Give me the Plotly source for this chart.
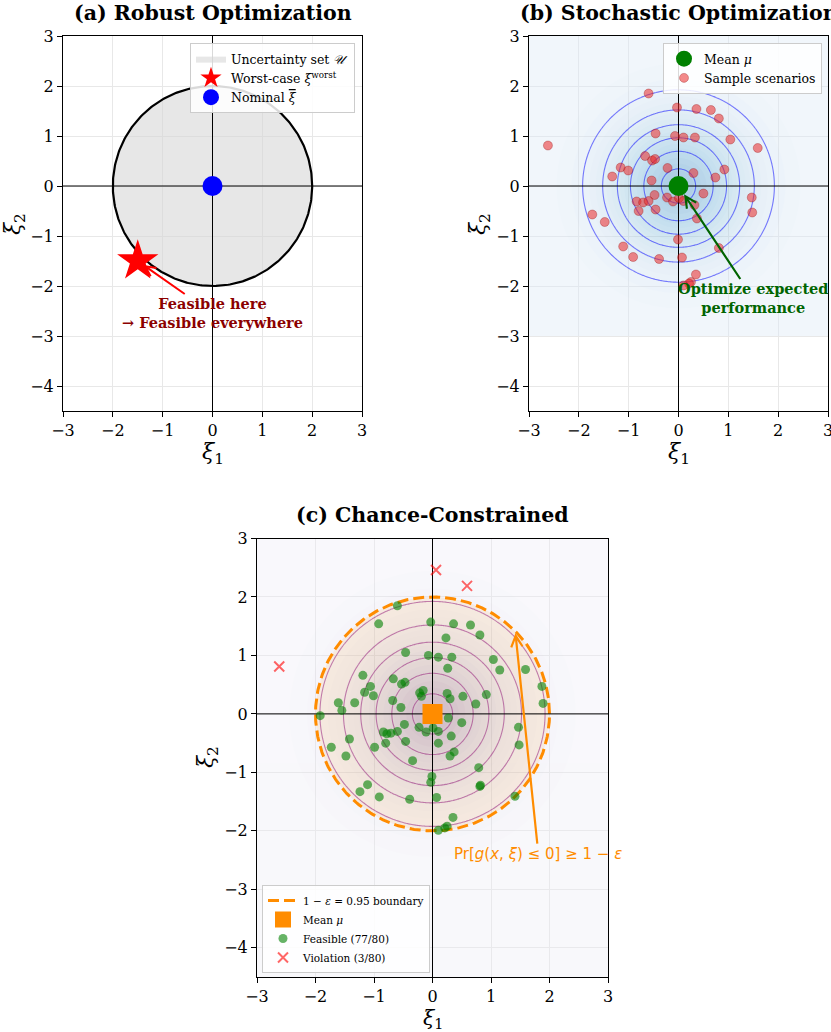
import numpy as np
import plotly.graph_objects as go

# ---------------- data ----------------
uncertainty_radius = 2.0
nominal_xi = [0.0]
nominal_eta = [0.0]
worst_xi = [-1.5]
worst_eta = [-1.5]
mean_xi = [0.0]
mean_eta = [0.0]

sample_x = [-0.60, -0.03, 0.36, 0.65, 0.81, -0.46, -0.07, 0.10, 0.33, 1.04,
            1.59, -2.62, -0.67, -0.53, -0.47, -1.16, -1.01, -1.33, -0.22, 0.30,
            0.92, 0.74, -0.54, 0.50, -0.48, -0.23, -0.11, 0.01, 0.10, -0.84,
            -0.71, -0.60, -0.80, -0.46, 0.32, 0.37, 1.47, 1.48, -1.73, -1.48,
            -0.01, 0.81, -1.11, -0.91, -0.39, 0.07, 0.35, 0.25, 0.21, 0.10,
            -0.92, 0.23, 0.26, 1.15, -1.19, -1.06, 1.87, 1.89, -0.16, -0.19,
            0.25, 0.52, -0.68, -1.61, -1.55, -1.92, 0.27, -0.78, 0.10, -1.42,
            0.30, -0.99, -0.34, 0.79, -0.03, -1.24, 1.41, 0.06, 0.59, 0.82]
sample_y = [1.85, 1.57, 1.54, 1.52, 1.35, 1.05, 1.00, 0.97, 0.97, 0.93,
            0.76, 0.81, 0.60, 0.51, 0.54, 0.37, 0.31, 0.19, 0.36, 0.26,
            0.33, 0.17, 0.11, -0.15, -0.18, -0.23, -0.31, -0.24, -0.30, -0.31,
            -0.33, -0.30, -0.50, -0.47, -0.38, -0.65, -0.23, -0.53, -0.57, -0.72,
            -1.07, -1.24, -1.21, -1.42, -1.46, -1.43, -1.77, -1.92, -1.95, -1.99,
            1.54, 1.30, 0.78, 0.75, 0.66, 0.47, 0.47, 0.18, 0.40, 0.30,
            0.35, 0.30, 0.23, 0.19, 0.06, -0.03, -0.07, -0.34, -0.50, -0.43,
            -0.72, -0.57, -0.80, -0.92, -1.17, -1.33, -1.41, 2.46, 2.19, -1.22]
n_stochastic = 50
epsilon = 0.05
boundary_radius = 2.0
contour_levels = [0.025, 0.15, 0.025]   # start, end, step of density contour lines

X_RANGE = [-3, 3]
Y_RANGE = [-4.5, 3]
X_TICKS = [-3, -2, -1, 0, 1, 2, 3]
Y_TICKS = [-4, -3, -2, -1, 0, 1, 2, 3]

# ---------------- helpers ----------------
W, H = 831, 1032
SERIF = "DejaVu Serif"
SANS = "DejaVu Sans"


def px(x):
    return x / W


def py(y):
    return 1 - y / H


def fmt(v):
    return ("\u2212" + str(abs(v))) if v < 0 else str(v)


def axis(domain, rng, ticks, anchor):
    return dict(domain=domain, range=rng, anchor=anchor,
                tickmode="array", tickvals=ticks, ticktext=[fmt(t) for t in ticks],
                showgrid=True, gridcolor="#e8e8e8", gridwidth=1, zeroline=False,
                showline=True, mirror=True, linecolor="black", linewidth=1,
                ticks="outside", ticklen=5, tickwidth=1, tickcolor="black",
                ticklabeloverflow="allow",
                tickfont=dict(family=SERIF, size=16, color="black"))


theta = np.linspace(0, 2 * np.pi, 361)
sx = np.array(sample_x)
sy = np.array(sample_y)


def gauss(xg, yg):
    XX, YY = np.meshgrid(xg, yg)
    return np.exp(-0.5 * (XX ** 2 + YY ** 2)) / (2 * np.pi)


fig = go.Figure()


def zero_lines(xa, ya):
    fig.add_trace(go.Scatter(x=X_RANGE, y=[0, 0], mode="lines", xaxis=xa, yaxis=ya,
                             line=dict(color="black", width=1), showlegend=False, hoverinfo="skip"))
    fig.add_trace(go.Scatter(x=[0, 0], y=Y_RANGE, mode="lines", xaxis=xa, yaxis=ya,
                             line=dict(color="black", width=1), showlegend=False, hoverinfo="skip"))


# ---------------- (a) Robust ----------------
fig.add_trace(go.Scatter(x=uncertainty_radius * np.cos(theta), y=uncertainty_radius * np.sin(theta),
                         fill="toself", fillcolor="rgba(211,211,211,0.55)", mode="lines",
                         line=dict(width=0, color="rgba(0,0,0,0)"),
                         name="Uncertainty set <i>\U0001D4B0</i>", legend="legend",
                         xaxis="x", yaxis="y", hoverinfo="skip"))
fig.add_trace(go.Scatter(x=uncertainty_radius * np.cos(theta), y=uncertainty_radius * np.sin(theta),
                         mode="lines", line=dict(color="black", width=2.2),
                         showlegend=False, xaxis="x", yaxis="y", hoverinfo="skip"))
zero_lines("x", "y")
fig.add_trace(go.Scatter(x=worst_xi, y=worst_eta, mode="markers",
                         marker=dict(symbol="star", size=31, color="red"),
                         name="Worst-case <i>ξ</i><sup>worst</sup>", legend="legend",
                         xaxis="x", yaxis="y"))
fig.add_trace(go.Scatter(x=nominal_xi, y=nominal_eta, mode="markers",
                         marker=dict(symbol="circle", size=20, color="blue"),
                         name='Nominal <span style="text-decoration:overline"><i>ξ</i></span>',
                         legend="legend", xaxis="x", yaxis="y"))

# ---------------- (b) Stochastic ----------------
gx = np.linspace(-3, 3, 241)
gy_b = np.linspace(-3, 3, 241)
Zb = gauss(gx, gy_b)
blues = [[0, "#e3eef9"], [0.25, "#c6dbef"], [0.5, "#9ecae1"], [0.75, "#6baed6"], [1, "#3182bd"]]
fig.add_trace(go.Contour(x=gx, y=gy_b, z=Zb, xaxis="x2", yaxis="y2",
                         colorscale=blues, showscale=False, opacity=0.4,
                         contours=dict(start=0, end=0.16, size=0.008, coloring="fill"),
                         line=dict(width=0), hoverinfo="skip", showlegend=False))
fig.add_trace(go.Contour(x=gx, y=gy_b, z=Zb, xaxis="x2", yaxis="y2",
                         colorscale=[[0, "blue"], [1, "blue"]], showscale=False, opacity=0.5,
                         contours=dict(start=contour_levels[0], end=contour_levels[1],
                                       size=contour_levels[2], coloring="lines"),
                         line=dict(width=1.1), hoverinfo="skip", showlegend=False))
zero_lines("x2", "y2")
fig.add_trace(go.Scatter(x=sx[:n_stochastic], y=sy[:n_stochastic], mode="markers",
                         marker=dict(size=9, color="rgba(235,40,40,0.55)",
                                     line=dict(color="rgba(139,0,0,0.5)", width=0.6)),
                         name="Sample scenarios", legend="legend2", legendrank=2,
                         xaxis="x2", yaxis="y2"))
fig.add_trace(go.Scatter(x=mean_xi, y=mean_eta, mode="markers",
                         marker=dict(size=20, color="green"),
                         name="Mean <i>μ</i>", legend="legend2", legendrank=1,
                         xaxis="x2", yaxis="y2"))

# ---------------- (c) Chance constrained ----------------
gy_c = np.linspace(-4.5, 3, 301)
Zc = gauss(gx, gy_c)
purples = [[0, "#f2f0f7"], [0.25, "#dadaeb"], [0.5, "#bcbddc"], [0.75, "#9e9ac8"], [1, "#6a51a3"]]
fig.add_trace(go.Contour(x=gx, y=gy_c, z=Zc, xaxis="x3", yaxis="y3",
                         colorscale=purples, showscale=False, opacity=0.35,
                         contours=dict(start=0, end=0.16, size=0.008, coloring="fill"),
                         line=dict(width=0), hoverinfo="skip", showlegend=False))
fig.add_trace(go.Scatter(x=boundary_radius * np.cos(theta), y=boundary_radius * np.sin(theta),
                         fill="toself", fillcolor="rgba(255,140,0,0.1)", mode="lines",
                         line=dict(width=0, color="rgba(0,0,0,0)"), showlegend=False,
                         xaxis="x3", yaxis="y3", hoverinfo="skip"))
fig.add_trace(go.Contour(x=gx, y=gy_c, z=Zc, xaxis="x3", yaxis="y3",
                         colorscale=[[0, "purple"], [1, "purple"]], showscale=False, opacity=0.5,
                         contours=dict(start=contour_levels[0], end=contour_levels[1],
                                       size=contour_levels[2], coloring="lines"),
                         line=dict(width=1.1), hoverinfo="skip", showlegend=False))
fig.add_trace(go.Scatter(x=boundary_radius * np.cos(theta), y=boundary_radius * np.sin(theta),
                         mode="lines", line=dict(color="darkorange", width=3, dash="11px,5px"),
                         name=f"1 − <i>ε</i> = {1 - epsilon:.2f} boundary",
                         legend="legend3", legendrank=1, xaxis="x3", yaxis="y3", hoverinfo="skip"))
zero_lines("x3", "y3")
r = np.sqrt(sx ** 2 + sy ** 2)
feas = r <= boundary_radius
n_tot = len(sample_x)
fig.add_trace(go.Scatter(x=sx[feas], y=sy[feas], mode="markers",
                         marker=dict(size=9, color="rgba(0,128,0,0.6)"),
                         name=f"Feasible ({int(feas.sum())}/{n_tot})",
                         legend="legend3", legendrank=3, xaxis="x3", yaxis="y3"))
fig.add_trace(go.Scatter(x=sx[~feas], y=sy[~feas], mode="markers",
                         marker=dict(size=10, symbol="x-thin", color="rgba(255,0,0,0.6)",
                                     line=dict(color="rgba(255,0,0,0.6)", width=2)),
                         name=f"Violation ({int((~feas).sum())}/{n_tot})",
                         legend="legend3", legendrank=4, xaxis="x3", yaxis="y3"))
fig.add_trace(go.Scatter(x=mean_xi, y=mean_eta, mode="markers",
                         marker=dict(size=20, symbol="square", color="darkorange"),
                         name="Mean <i>μ</i>", legend="legend3", legendrank=2,
                         xaxis="x3", yaxis="y3"))

# ---------------- layout ----------------
dom_a_x = [px(63), px(362)]
dom_b_x = [px(529), px(828)]
dom_top_y = [py(411), py(36)]
dom_c_x = [px(257), px(608)]
dom_c_y = [py(977), py(538.5)]

annotations = []


def label(text, x, y, size, bold=False, angle=0, family=SERIF, color="black"):
    annotations.append(dict(text=f"<b>{text}</b>" if bold else text, x=px(x), y=py(y),
                            xref="paper", yref="paper", showarrow=False, textangle=angle,
                            xanchor="center", yanchor="middle",
                            font=dict(family=family, size=size, color=color)))


label("(a) Robust Optimization", 212.5, 13, 20.5, bold=True)
label("(b) Stochastic Optimization", 678.5, 13, 20.5, bold=True)
label("(c) Chance-Constrained", 432.5, 515, 20.5, bold=True)
label("<i>ξ</i><sub>1</sub>", 212.5, 453, 22)
label("<i>ξ</i><sub>1</sub>", 678.5, 453, 22)
label("<i>ξ</i><sub>1</sub>", 432.5, 1018.5, 20.5)
label("<i>ξ</i><sub>2</sub>", 15, 224, 22, angle=-90)
label("<i>ξ</i><sub>2</sub>", 480, 224, 22, angle=-90)
label("<i>ξ</i><sub>2</sub>", 207, 757, 22, angle=-90)

annotations.append(dict(text="<b>Feasible here<br>→ Feasible everywhere</b>",
                        x=worst_xi[0], y=worst_eta[0], ax=0.0, ay=-2.55,
                        xref="x", yref="y", axref="x", ayref="y",
                        showarrow=True, arrowhead=5, arrowsize=1, arrowwidth=2,
                        arrowcolor="red", standoff=7,
                        font=dict(family=SERIF, size=14.5, color="darkred")))
annotations.append(dict(text="<b>Optimize expected<br>performance</b>",
                        x=mean_xi[0], y=mean_eta[0], ax=1.5, ay=-2.25,
                        xref="x2", yref="y2", axref="x2", ayref="y2",
                        showarrow=True, arrowhead=5, arrowsize=1, arrowwidth=2.2,
                        arrowcolor="darkgreen", standoff=10,
                        font=dict(family=SERIF, size=14.5, color="darkgreen")))
target = boundary_radius / np.sqrt(2)
annotations.append(dict(text="Pr[<i>g</i>(<i>x</i>, <i>ξ</i>) ≤ 0] ≥ 1 − <i>ε</i>",
                        x=target, y=target, ax=1.81, ay=-2.4,
                        xref="x3", yref="y3", axref="x3", ayref="y3",
                        showarrow=True, arrowhead=5, arrowsize=1, arrowwidth=2.2,
                        arrowcolor="darkorange", standoff=2,
                        font=dict(family=SANS, size=15, color="darkorange")))

legend_common = dict(bgcolor="rgba(255,255,255,0.85)", bordercolor="#cccccc", borderwidth=1,
                     tracegroupgap=0)

fig.update_layout(
    width=W, height=H, autosize=False,
    margin=dict(l=0, r=0, t=0, b=0, autoexpand=False),
    paper_bgcolor="white", plot_bgcolor="white",
    font=dict(family=SERIF, color="black"),
    xaxis=axis(dom_a_x, X_RANGE, X_TICKS, "y"),
    yaxis=axis(dom_top_y, Y_RANGE, Y_TICKS, "x"),
    xaxis2=axis(dom_b_x, X_RANGE, X_TICKS, "y2"),
    yaxis2=axis(dom_top_y, Y_RANGE, Y_TICKS, "x2"),
    xaxis3=axis(dom_c_x, X_RANGE, X_TICKS, "y3"),
    yaxis3=axis(dom_c_y, Y_RANGE, Y_TICKS, "x3"),
    legend=dict(x=px(355), y=py(43), xanchor="right", yanchor="top",
                font=dict(family=SERIF, size=12.5), **legend_common),
    legend2=dict(x=px(822), y=py(43), xanchor="right", yanchor="top",
                 font=dict(family=SERIF, size=12.5), **legend_common),
    legend3=dict(x=px(262), y=py(973), xanchor="left", yanchor="bottom",
                 font=dict(family=SERIF, size=10.5), **legend_common),
    annotations=annotations,
    showlegend=True,
)

fig.write_html("out.html")
